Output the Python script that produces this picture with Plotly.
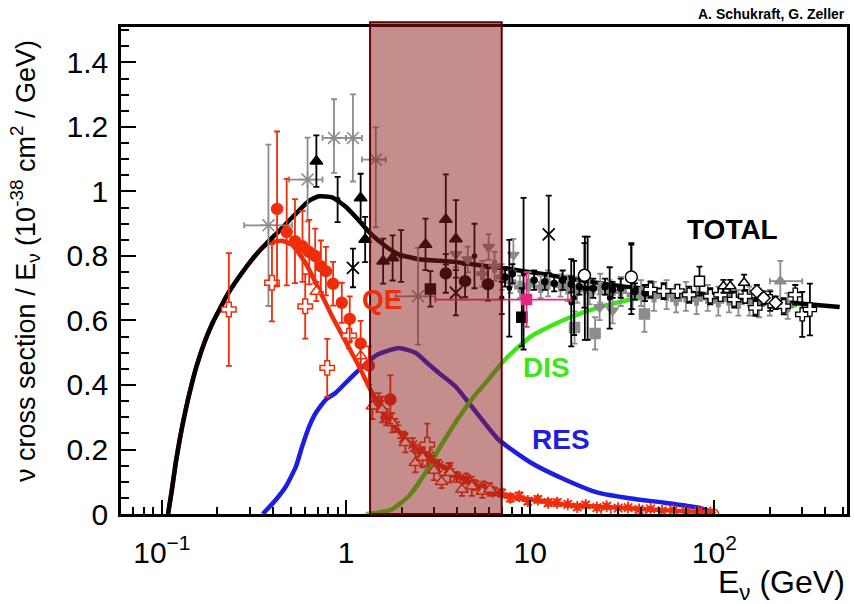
import math
import plotly.graph_objects as go

# ---------------- model curves (E in GeV, sigma/E in 1e-38 cm^2/GeV) ----------------
E_total = [0.108, 0.113, 0.119, 0.125, 0.138, 0.154, 0.171, 0.189, 0.206, 0.224, 0.264, 0.311, 0.368,
           0.434, 0.511, 0.631, 0.714, 0.84, 1.0, 1.175, 1.33, 1.64, 1.93, 2.48, 3.2,
           4.08, 6.7, 10, 14.2, 20, 32.6, 50, 74, 110, 170, 300, 479]
y_total = [0.0, 0.07, 0.16, 0.231, 0.35, 0.457, 0.535, 0.594, 0.635, 0.675, 0.737, 0.792, 0.838,
           0.878, 0.92, 0.972, 0.985, 0.982, 0.952, 0.91, 0.875, 0.83, 0.805, 0.79, 0.785,
           0.78, 0.764, 0.75, 0.736, 0.722, 0.705, 0.695, 0.686, 0.676, 0.664, 0.652, 0.642]

E_qe = [0.108, 0.113, 0.119, 0.125, 0.138, 0.154, 0.171, 0.189, 0.206, 0.224, 0.264, 0.311, 0.35, 0.39,
        0.45, 0.511, 0.60, 0.714, 0.84, 1.0, 1.175, 1.38, 1.71, 2.19, 2.92, 4.08, 5.69, 7.3, 10.1,
        15.4, 28.7, 53.5, 100]
y_qe = [0.0, 0.07, 0.16, 0.231, 0.35, 0.457, 0.535, 0.594, 0.635, 0.675, 0.737, 0.79, 0.825, 0.843,
        0.847, 0.834, 0.78, 0.696, 0.613, 0.532, 0.458, 0.377, 0.293, 0.222, 0.169, 0.117, 0.076, 0.055, 0.045,
        0.029, 0.020, 0.012, 0.004]

E_res = [0.353, 0.417, 0.472, 0.535, 0.578, 0.631, 0.686, 0.777, 0.879, 1.08, 1.27, 1.49, 1.93, 2.38,
         2.8, 3.18, 3.92, 4.80, 6.72, 10.1, 15.4, 23.3, 35.2, 53.5, 81, 100]
y_res = [0.0, 0.045, 0.086, 0.148, 0.21, 0.272, 0.314, 0.355, 0.376, 0.427, 0.464, 0.495, 0.515, 0.50,
         0.465, 0.438, 0.396, 0.334, 0.231, 0.159, 0.107, 0.066, 0.048, 0.035, 0.02, 0.004]

E_dis = [1.28, 1.5, 1.77, 2.19, 2.70, 3.18, 3.92, 4.80, 5.93, 7.3, 10.1, 15.4, 23.3, 35.2, 50, 81, 150, 281]
y_dis = [0.0, 0.004, 0.014, 0.055, 0.128, 0.2, 0.283, 0.355, 0.417, 0.479, 0.551, 0.603, 0.64, 0.665,
         0.675, 0.68, 0.66, 0.647]

# ---------------- data points ----------------
# red (QE measurements)
qe_circ_E = [0.422, 0.476, 0.528, 0.58, 0.631, 0.68, 0.73, 0.777, 0.85, 0.948, 1.047, 1.2, 1.33, 1.74]
qe_circ_y = [0.946, 0.874, 0.846, 0.83, 0.812, 0.80, 0.768, 0.753, 0.714, 0.655, 0.605, 0.529, 0.46, 0.355]
qe_circ_ey = [0.24, 0.165, 0.13, 0.11, 0.10, 0.085, 0.08, 0.075, 0.068, 0.062, 0.07, 0.07, 0.06, 0.075]

qe_cross_E = [0.231, 0.396, 0.60, 0.79, 1.04, 2.76]
qe_cross_y = [0.634, 0.717, 0.644, 0.453, 0.553, 0.215]
qe_cross_ey = [0.175, 0.12, 0.10, 0.09, 0.04, 0.065]

qe_tri_E = [0.69, 1.2, 1.39, 1.57, 1.78, 2.1, 2.38, 2.6, 3.0, 3.3, 3.68, 4.26, 4.82, 5.5, 6.05]
qe_tri_y = [0.69, 0.49, 0.334, 0.324, 0.283, 0.221, 0.159, 0.175, 0.135, 0.10, 0.128, 0.076, 0.086, 0.07, 0.076]
qe_tri_ey = [0.03, 0.03, 0.04, 0.04, 0.03, 0.03, 0.03, 0.03, 0.03, 0.02, 0.03, 0.02, 0.03, 0.02, 0.02]

qe_star_E = [1.5, 1.65, 1.85, 2.05, 2.3, 2.55, 2.85, 3.2, 3.6, 4.0, 4.5, 5.0, 5.6, 6.3, 7.0, 7.8, 8.7,
             9.7, 11, 12.5, 14, 16, 18, 20, 23, 26, 30, 34, 39, 45, 52, 60, 70, 82, 95]
qe_star_y = [0.35, 0.30, 0.275, 0.235, 0.215, 0.19, 0.18, 0.15, 0.14, 0.115, 0.11, 0.09, 0.085, 0.07, 0.065,
             0.05, 0.055, 0.04, 0.045, 0.035, 0.035, 0.03, 0.022, 0.028, 0.02, 0.024, 0.018, 0.02, 0.014,
             0.016, 0.01, 0.012, 0.008, 0.009, 0.005]
qe_star_ey = [0.025, 0.025, 0.02, 0.02, 0.02, 0.02, 0.02, 0.018, 0.018, 0.015, 0.015, 0.015, 0.015, 0.012,
              0.012, 0.012, 0.012, 0.01, 0.01, 0.01, 0.01, 0.008, 0.008, 0.008, 0.008, 0.008, 0.006, 0.006,
              0.006, 0.006, 0.005, 0.005, 0.005, 0.005, 0.004]

qe_ocirc_E = [25.8, 39.8, 99]
qe_ocirc_y = [0.006, 0.004, 0.0]

# black
blk_tri_E = [0.69, 1.2, 1.27, 1.59, 1.79, 2.7, 3.48, 3.95]
blk_tri_y = [1.094, 0.98, 0.851, 0.784, 0.794, 0.836, 0.913, 0.853]
blk_tri_ey = [0.08, 0.075, 0.07, 0.07, 0.07, 0.08, 0.14, 0.12]

blk_bar_E = [0.9, 1.99, 4.98, 7.0, 7.7, 9.2, 16.7, 17.3, 19.8, 20.5, 27, 35.4]
blk_bar_y = [0.975, 0.80, 0.80, 0.67, 0.70, 0.745, 0.655, 0.67, 0.70, 0.70, 0.67, 0.73]
blk_bar_ey = [0.07, 0.08, 0.10, 0.05, 0.15, 0.235, 0.135, 0.115, 0.16, 0.16, 0.095, 0.11]

blk_sq_E = [2.87, 9.0]
blk_sq_y = [0.698, 0.61]
blk_sq_ey = [0.055, 0.09]

blk_x_E = [1.09, 3.95, 12.6]
blk_x_y = [0.763, 0.686, 0.867]
blk_x_ey = [0.06, 0.07, 0.12]

blk_circ_E = [3.48, 4.43, 5.9]
blk_circ_y = [0.746, 0.722, 0.712]
blk_circ_ey = [0.06, 0.05, 0.05]

blk_ocirc_E = [19.7, 35.4]
blk_ocirc_y = [0.74, 0.735]
blk_ocirc_ey = [0.1, 0.1]

blk_dot_E = [7.3, 8.0, 10.5, 12.0, 13.5, 15.0, 16.7, 18.5, 22, 25.5, 28, 31, 37, 42]
blk_dot_y = [0.735, 0.745, 0.725, 0.72, 0.715, 0.725, 0.712, 0.705, 0.70, 0.705, 0.695, 0.70, 0.69, 0.685]
blk_dot_ey = [0.03, 0.03, 0.03, 0.025, 0.025, 0.03, 0.025, 0.025, 0.03, 0.025, 0.025, 0.03, 0.025, 0.025]

blk_ocross_E = [45, 53, 63, 73, 95, 108, 128, 147, 167, 201, 238, 275, 300, 330]
blk_ocross_y = [0.696, 0.691, 0.691, 0.68, 0.675, 0.68, 0.665, 0.675, 0.639, 0.66, 0.644, 0.68, 0.619, 0.634]
blk_ocross_ey = [0.025, 0.025, 0.02, 0.025, 0.025, 0.02, 0.025, 0.02, 0.025, 0.03, 0.025, 0.03, 0.07, 0.08]

blk_osq_E = [83]
blk_osq_y = [0.722]
blk_osq_ey = [0.045]

blk_otri_E = [112, 122, 145]
blk_otri_y = [0.706, 0.706, 0.717]
blk_otri_ey = [0.02, 0.02, 0.025]

blk_odia_E = [170, 185, 215]
blk_odia_y = [0.69, 0.67, 0.655]
blk_odia_ey = [0.02, 0.02, 0.02]

# gray
gry_star_E = [0.379, 0.618, 0.86, 1.09, 1.45, 2.46]
gry_star_y = [0.895, 1.037, 1.166, 1.166, 1.099, 0.675]
gry_star_lo = [0.28, 0.49, 0.745, 1.0, 1.22, 1.86]
gry_star_hi = [0.51, 0.745, 1.0, 1.22, 1.64, 3.05]
gry_star_eyp = [0.25, 0.13, 0.12, 0.135, 0.10, 0.15]
gry_star_eym = [0.25, 0.13, 0.108, 0.135, 0.21, 0.15]

gry_tri_E = [3.95, 4.58, 5.94, 8.1, 23.8, 28]
gry_tri_y = [0.805, 0.789, 0.828, 0.803, 0.641, 0.631]
gry_tri_ey = [0.04, 0.04, 0.04, 0.05, 0.04, 0.04]

gry_sq_E = [17.4, 22.5, 41.7]
gry_sq_y = [0.578, 0.56, 0.62]
gry_sq_ey = [0.05, 0.05, 0.055]

gry_cross_E = [5.5, 6.4, 7.0, 7.8, 8.8, 9.8, 11.4, 12.5, 14.6, 16, 18, 21, 24, 27, 31, 36, 40, 47, 55,
               62, 70, 80, 92, 105, 120, 135, 155, 175, 200, 250]
gry_cross_y = [0.745, 0.768, 0.735, 0.72, 0.704, 0.71, 0.704, 0.715, 0.709, 0.70, 0.695, 0.69, 0.70, 0.685,
               0.69, 0.68, 0.685, 0.675, 0.68, 0.665, 0.675, 0.665, 0.67, 0.66, 0.665, 0.655, 0.66, 0.65,
               0.655, 0.645]
gry_cross_ey = [0.04, 0.045, 0.04, 0.035, 0.035, 0.04, 0.035, 0.04, 0.035, 0.04, 0.04, 0.04, 0.045, 0.04,
                0.045, 0.045, 0.04, 0.045, 0.045, 0.04, 0.045, 0.045, 0.04, 0.045, 0.04, 0.04, 0.045, 0.04,
                0.04, 0.04]

gry_htri_E = [228]
gry_htri_y = [0.722]
gry_htri_lo = [200]
gry_htri_hi = [300]
gry_htri_ey = [0.063]

# magenta
pink_E = [9.55]
pink_y = [0.665]
pink_lo = [3.05]
pink_hi = [16.6]
pink_ey = [0.085]

# shaded energy band (GeV)
band_E = [1.35, 7.0]

# axis ticks
x_tickvals = [0.1, 1, 10, 100]
x_ticktext = ["10<sup>\u22121</sup>", "1", "10", "10<sup>2</sup>"]
y_tickvals = [0, 0.2, 0.4, 0.6, 0.8, 1.0, 1.2, 1.4]
y_ticktext = ["0", "0.2", "0.4", "0.6", "0.8", "1", "1.2", "1.4"]

RED = "rgb(240,45,10)"
BLUE = "rgb(30,30,225)"
GREEN = "rgb(60,230,25)"
GRAY = "rgb(140,140,140)"
PINK = "rgb(225,40,130)"

fig = go.Figure()


def curve(E, y, color, width=4.5):
    fig.add_trace(go.Scatter(x=E, y=y, mode="lines", hoverinfo="skip",
                             line=dict(color=color, width=width, shape="spline", smoothing=0.5)))


def points(E, y, symbol, color, size, eyp=None, eym=None, fill=None, lw=1.5,
           lo=None, hi=None, ecolor=None):
    ec = ecolor or color
    tr = dict(x=E, y=y, mode="markers", hoverinfo="skip",
              marker=dict(symbol=symbol, size=size, color=fill or color,
                          line=dict(color=color, width=lw)))
    if eyp is not None:
        tr["error_y"] = dict(type="data", symmetric=eym is None, array=eyp,
                             arrayminus=eym if eym is not None else eyp,
                             color=ec, thickness=1.8, width=3)
    if lo is not None:
        tr["error_x"] = dict(type="data", symmetric=False,
                             array=[h - e for h, e in zip(hi, E)],
                             arrayminus=[e - l for e, l in zip(E, lo)],
                             color=ec, thickness=1.8, width=3)
    fig.add_trace(go.Scatter(**tr))


# curves
curve(E_res, y_res, BLUE)
curve(E_dis, y_dis, GREEN)
curve(E_qe, y_qe, RED)
curve(E_total, y_total, "black")

# data
points(gry_star_E, gry_star_y, "asterisk-open", GRAY, 14, gry_star_eyp, gry_star_eym, lo=gry_star_lo, hi=gry_star_hi)
points(gry_cross_E, gry_cross_y, "cross", GRAY, 9, gry_cross_ey)
points(gry_tri_E, gry_tri_y, "triangle-down", GRAY, 10, gry_tri_ey)
points(gry_sq_E, gry_sq_y, "square", GRAY, 10, gry_sq_ey)
points(gry_htri_E, gry_htri_y, "triangle-up", GRAY, 10, gry_htri_ey, lo=gry_htri_lo, hi=gry_htri_hi)

points(blk_bar_E, blk_bar_y, "circle", "black", 4, blk_bar_ey)
points(blk_dot_E, blk_dot_y, "circle", "black", 6, blk_dot_ey)
points(blk_tri_E, blk_tri_y, "triangle-up", "black", 11, blk_tri_ey)
points(blk_circ_E, blk_circ_y, "circle", "black", 11, blk_circ_ey)
points(blk_sq_E, blk_sq_y, "square", "black", 10, blk_sq_ey)
points(blk_x_E, blk_x_y, "x-thin-open", "black", 12, blk_x_ey, lw=1.8)
points(blk_ocirc_E, blk_ocirc_y, "circle", "black", 12, blk_ocirc_ey, fill="white")
points(blk_ocross_E, blk_ocross_y, "cross", "black", 11, blk_ocross_ey, fill="white", lw=1.3)
points(blk_osq_E, blk_osq_y, "square", "black", 10, blk_osq_ey, fill="white")
points(blk_otri_E, blk_otri_y, "triangle-up", "black", 10, blk_otri_ey, fill="white")
points(blk_odia_E, blk_odia_y, "diamond", "black", 10, blk_odia_ey, fill="white")

points(pink_E, pink_y, "square", PINK, 10, pink_ey, lo=pink_lo, hi=pink_hi)

points(qe_star_E, qe_star_y, "asterisk-open", RED, 10, qe_star_ey, lw=1.8)
points(qe_tri_E, qe_tri_y, "triangle-up", RED, 11, qe_tri_ey, fill="white")
points(qe_cross_E, qe_cross_y, "cross", RED, 12, qe_cross_ey, fill="white")
points(qe_circ_E, qe_circ_y, "circle", RED, 11, qe_circ_ey)
points(qe_ocirc_E, qe_ocirc_y, "circle-open", RED, 10, lw=1.5)

FONT = "Liberation Sans"

fig.add_shape(type="rect", xref="x", yref="paper", x0=band_E[0], x1=band_E[1], y0=0, y1=1.01,
              fillcolor="rgba(140,30,25,0.5)", line=dict(color="rgb(100,0,0)", width=2), layer="above")

labels = [("QE", 1.57, 0.665, RED), ("DIS", 12.25, 0.453, GREEN),
          ("RES", 14.6, 0.231, BLUE), ("TOTAL", 126, 0.882, "black")]
for txt, ex, ey, col in labels:
    fig.add_annotation(text="<b>%s</b>" % txt, x=math.log10(ex), y=ey, xref="x", yref="y",
                       showarrow=False, font=dict(family=FONT, size=28, color=col))

fig.add_annotation(text="<b>A. Schukraft, G. Zeller</b>", xref="paper", yref="paper", x=1.0, y=1.0,
                   xanchor="right", yanchor="bottom", yshift=3, showarrow=False,
                   font=dict(family=FONT, size=14, color="black"))
fig.add_annotation(text="E<sub>\u03bd</sub> (GeV)", xref="paper", yref="paper", x=1.0, y=-0.145,
                   xanchor="right", yanchor="middle", showarrow=False,
                   font=dict(family=FONT, size=32, color="black"))
fig.add_annotation(text="\u03bd cross section / E<sub>\u03bd</sub> (10<sup>-38</sup> cm<sup>2</sup> / GeV)",
                   xref="paper", yref="paper", x=-0.132, y=0.52, textangle=-90,
                   xanchor="center", yanchor="middle", showarrow=False,
                   font=dict(family=FONT, size=27, color="black"))

minor_x = [m * 10 ** k for k in range(-2, 3) for m in range(2, 10)]

fig.update_layout(
    width=854, height=604, margin=dict(l=121, r=4, t=27, b=90),
    paper_bgcolor="white", plot_bgcolor="white", showlegend=False,
    font=dict(family=FONT, color="black"),
    xaxis=dict(type="log", range=[-1.222, 2.72], tickmode="array", tickvals=x_tickvals,
               ticktext=x_ticktext, ticks="inside", ticklen=14, tickwidth=1.5, tickcolor="black",
               showline=True, linewidth=2.5, linecolor="black", mirror=True, showgrid=False,
               zeroline=False, tickfont=dict(size=30, family=FONT), ticklabelstandoff=10,
               minor=dict(tickmode="array", tickvals=minor_x, ticks="inside", ticklen=7,
                          tickwidth=1.5, tickcolor="black", showgrid=False)),
    yaxis=dict(range=[0, 1.51], tickmode="array", tickvals=y_tickvals, ticktext=y_ticktext,
               ticks="inside", ticklen=15, tickwidth=1.5, tickcolor="black",
               showline=True, linewidth=2.5, linecolor="black", mirror=True, showgrid=False,
               zeroline=False, tickfont=dict(size=30, family=FONT), ticklabelstandoff=4,
               minor=dict(dtick=0.05, tick0=0, ticks="inside", ticklen=8, tickwidth=1.5,
                          tickcolor="black", showgrid=False)),
)

fig.write_html("out.html")
